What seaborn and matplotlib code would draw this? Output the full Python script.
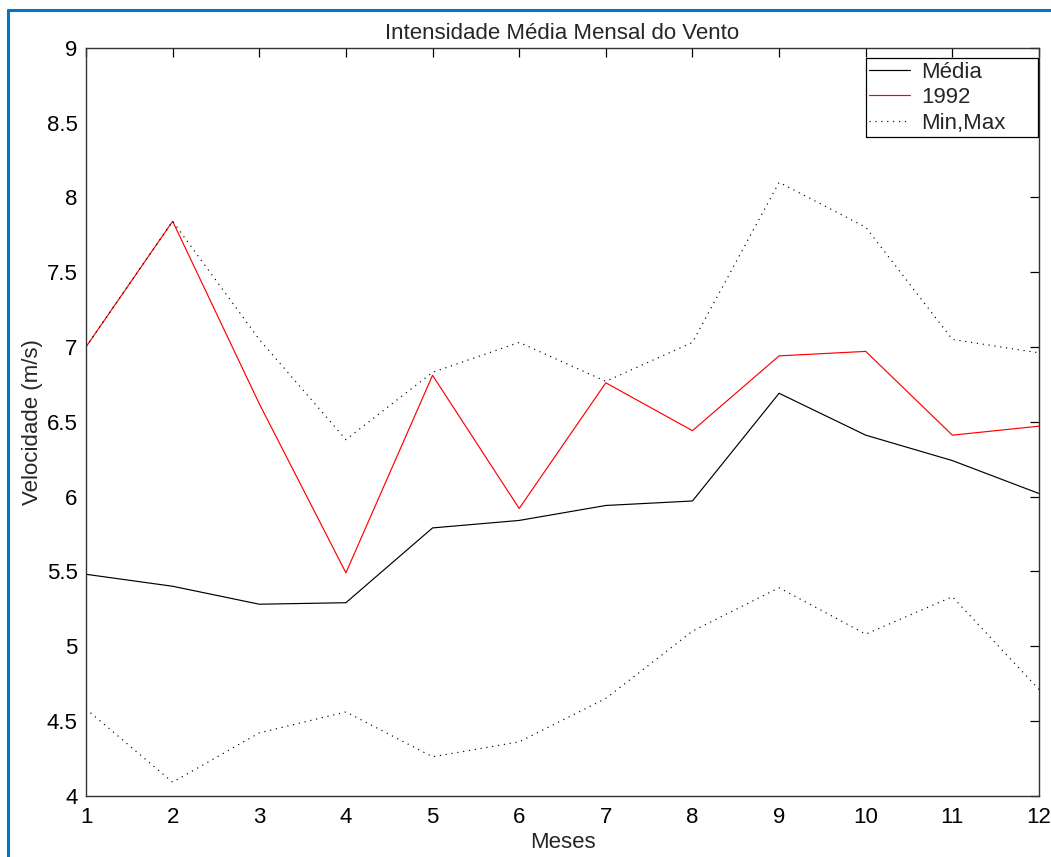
import matplotlib
matplotlib.use("Agg")
import matplotlib.pyplot as plt
import seaborn as sns
import numpy as np
from matplotlib.lines import Line2D

# Monthly wind speed data (m/s)
meses = [1, 2, 3, 4, 5, 6, 7, 8, 9, 10, 11, 12]
media = [5.48, 5.40, 5.28, 5.29, 5.79, 5.84, 5.94, 5.97, 6.69, 6.41, 6.24, 6.02]
ano_1992 = [7.00, 7.84, 6.62, 5.49, 6.81, 5.92, 6.76, 6.44, 6.94, 6.97, 6.41, 6.47]
maximo = [7.00, 7.84, 7.05, 6.38, 6.83, 7.03, 6.77, 7.03, 8.10, 7.80, 7.05, 6.96]
minimo = [4.58, 4.09, 4.42, 4.56, 4.26, 4.36, 4.65, 5.10, 5.39, 5.08, 5.33, 4.71]

y_ticks = [4, 4.5, 5, 5.5, 6, 6.5, 7, 7.5, 8, 8.5, 9]
y_tick_labels = ["4", "4.5", "5", "5.5", "6", "6.5", "7", "7.5", "8", "8.5", "9"]

sns.set_style("white")
plt.rcParams['font.family'] = ['Liberation Sans', 'DejaVu Sans']

fig = plt.figure(figsize=(10.51, 8.57), dpi=100)
ax = fig.add_axes([86 / 1051, 1 - 795.7 / 857, (1039 - 86) / 1051, (795.7 - 47.7) / 857])

dot_style = (0, (1, 4))
sns.lineplot(x=meses, y=media, color='black', linewidth=0.85, ax=ax)
sns.lineplot(x=meses, y=ano_1992, color='#ff0000', linewidth=0.85, ax=ax)
sns.lineplot(x=meses, y=maximo, color='black', linewidth=0.85, linestyle=dot_style, ax=ax)
sns.lineplot(x=meses, y=minimo, color='black', linewidth=0.85, linestyle=dot_style, ax=ax)

ax.set_xlim(1, 12)
ax.set_ylim(4, 9)
ax.set_xticks(meses)
ax.set_xticklabels([str(m) for m in meses])
ax.set_yticks(y_ticks)
ax.set_yticklabels(y_tick_labels)

ax.tick_params(axis='both', which='both', direction='in', length=6.5, width=0.9,
               top=True, right=True, labelsize=16, colors='black')
ax.tick_params(axis='y', pad=6)
ax.tick_params(axis='x', pad=8)
for side in ['left', 'bottom', 'top', 'right']:
    ax.spines[side].set_color('#333333')
    ax.spines[side].set_linewidth(1.0)

ax.set_title('Intensidade Média Mensal do Vento', fontsize=16, pad=6)
ax.set_xlabel('Meses', fontsize=16, labelpad=3)
ax.set_ylabel('Velocidade (m/s)', fontsize=16, labelpad=3)

handles = [Line2D([], [], color='black', linewidth=0.85),
           Line2D([], [], color='#ff0000', linewidth=0.85),
           Line2D([], [], color='black', linewidth=0.85, linestyle=dot_style)]
leg = ax.legend(handles, ['Média', '1992', 'Min,Max'], loc='upper left',
                bbox_to_anchor=(0.8185, 0.0, 0.1805, 0.9858), mode='expand',
                borderaxespad=0, fontsize=16,
                fancybox=False, framealpha=1, edgecolor='black',
                handlelength=1.85, handletextpad=0.5, labelspacing=0.2,
                borderpad=0.15)
leg.get_frame().set_linewidth(0.9)

# blue frame around the figure (left and top edges visible)
fig.add_artist(Line2D([7.5 / 1051, 7.5 / 1051], [0, 1 - 10 / 857], color='#0077c8',
                      linewidth=2.2, transform=fig.transFigure))
fig.add_artist(Line2D([7.5 / 1051, 1], [1 - 10 / 857, 1 - 10 / 857], color='#0077c8',
                      linewidth=2.2, transform=fig.transFigure))

fig.savefig('out.png', dpi=100)
plt.close(fig)
